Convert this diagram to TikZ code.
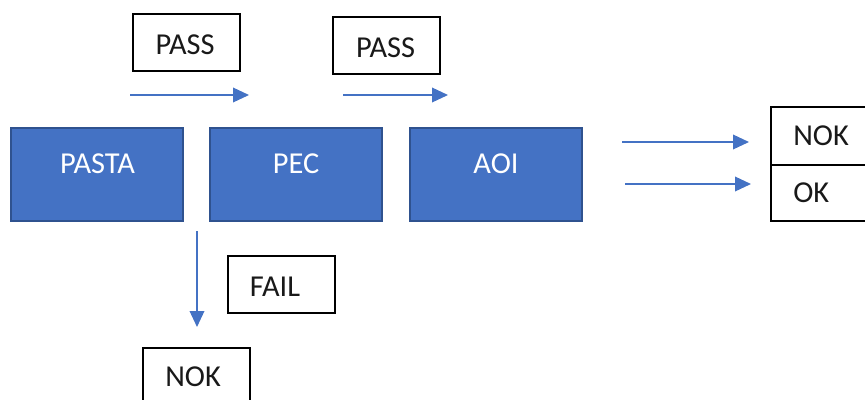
\documentclass[tikz,border=0pt]{standalone}
\usepackage{fontspec}
\setmainfont{Carlito}
\usetikzlibrary{arrows.meta}
\definecolor{stageblue}{HTML}{4472C4}
\definecolor{stageedge}{HTML}{2F528F}
\definecolor{flowblue}{HTML}{4472C4}
\begin{document}
\begin{tikzpicture}[x=0.75pt,y=-0.75pt,
  every node/.style={font=\fontsize{22.8}{27}\selectfont, inner sep=0pt},
  stage/.style={draw=stageedge, fill=stageblue, line width=1.5pt},
  stagetext/.style={text=white, anchor=base},
  tag/.style={draw=black, fill=white, line width=1.1pt},
  tagtext/.style={text=black!90, anchor=base},
  flow/.style={draw=flowblue, line width=1.1pt,
    -{Triangle[length=12pt,width=11pt]}}]
  \useasboundingbox (0,0) rectangle (865,400);
  \clip (0,0) rectangle (865,400);

  % process stages
  \node[stage, minimum width=172*0.75pt, minimum height=93*0.75pt] (pasta) at (97,174.5) {};
  \node[stage, minimum width=172*0.75pt, minimum height=93*0.75pt] (pec) at (296,174.5) {};
  \node[stage, minimum width=172*0.75pt, minimum height=93*0.75pt] (aoi) at (496,174.5) {};
  \node[stagetext] (pastaT) at (97.5,173) {PASTA};
  \node[stagetext] (pecT) at (296,173) {PEC};
  \node[stagetext] (aoiT) at (496,173) {AOI};

  % PASS labels
  \node[tag, minimum width=107*0.75pt, minimum height=57*0.75pt] (pass1) at (186.5,42.5) {};
  \node[tagtext] (pass1T) at (185,54) {PASS};
  \node[tag, minimum width=107*0.75pt, minimum height=57*0.75pt] (pass2) at (386.5,45.5) {};
  \node[tagtext] (pass2T) at (385.5,57.5) {PASS};

  % FAIL label and reject box
  \node[tag, minimum width=107*0.75pt, minimum height=57*0.75pt] (fail) at (281.5,284.5) {};
  \node[tagtext] (failT) at (275,296) {FAIL};
  \node[tag, minimum width=107*0.75pt, minimum height=80*0.75pt] (nokdown) at (196.5,388) {};
  \node[tagtext, anchor=base west] (nokdownT) at (165,386.7) {NOK};

  % result box NOK / OK
  \node[tag, minimum width=110*0.75pt, minimum height=58*0.75pt] (nokbox) at (826,136) {};
  \node[tag, minimum width=110*0.75pt, minimum height=56*0.75pt] (okbox) at (826,193) {};
  \node[tagtext, anchor=base west] (nokT) at (793,145) {NOK};
  \node[tagtext, anchor=base west] (okT) at (793,202.7) {OK};

  % arrows
  \coordinate (a1s) at (130,95);  \coordinate (a1e) at (249,95);
  \coordinate (a2s) at (343,95);  \coordinate (a2e) at (448,95);
  \coordinate (a3s) at (622,142); \coordinate (a3e) at (749,142);
  \coordinate (a4s) at (625,184); \coordinate (a4e) at (751,184);
  \coordinate (a5s) at (197,231); \coordinate (a5e) at (197,327);
  \draw[flow] (a1s) -- (a1e);
  \draw[flow] (a2s) -- (a2e);
  \draw[flow] (a3s) -- (a3e);
  \draw[flow] (a4s) -- (a4e);
  \draw[flow] (a5s) -- (a5e);
\end{tikzpicture}
\end{document}
